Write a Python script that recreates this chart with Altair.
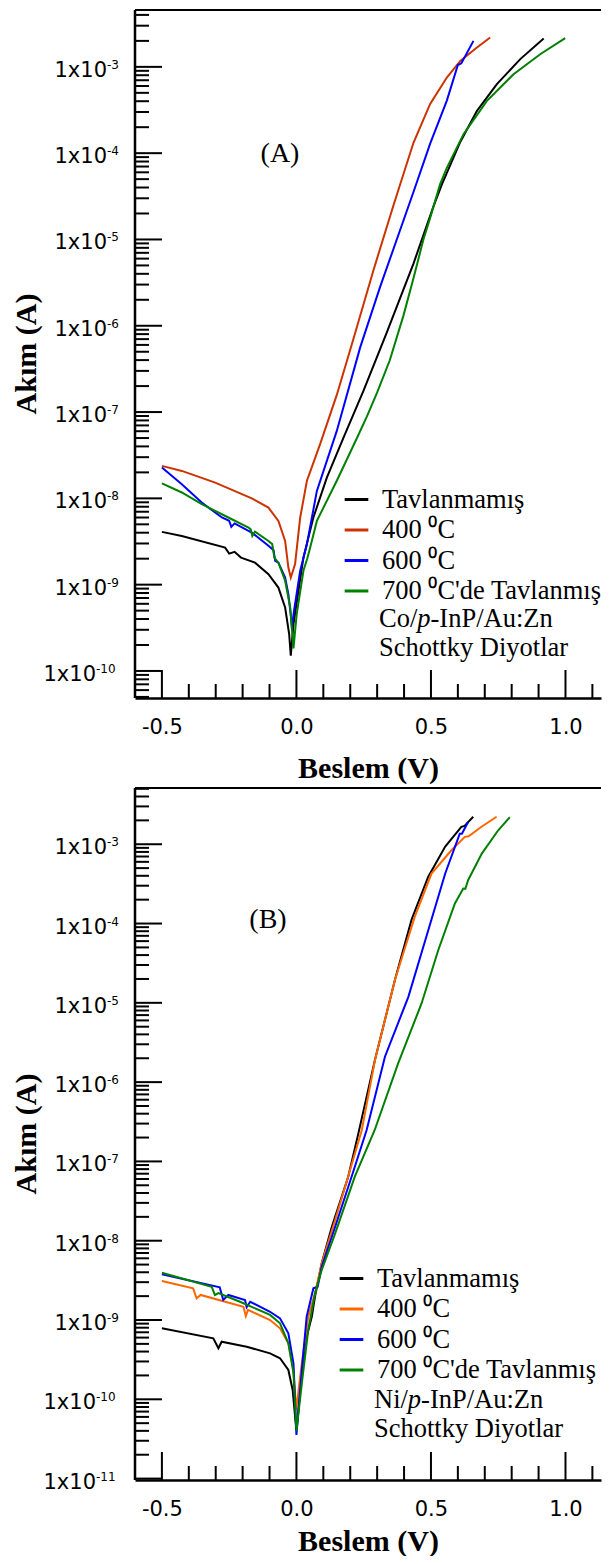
import altair as alt
import pandas as pd

# ---------------- series / colours ----------------
SERIES = ["Tavlanmamış", "400 ⁰C", "600 ⁰C", "700 ⁰C'de Tavlanmış"]
COLORS_A = ["#000000", "#CC3300", "#0000FF", "#008000"]
COLORS_B = ["#000000", "#FF6600", "#0000FF", "#008000"]

# ---------------- panel (A): Co/p-InP/Au:Zn ----------------
A0_V = [-0.5, -0.426, -0.265, -0.25, -0.23, -0.206, -0.154, -0.104, -0.067, -0.042, -0.027, -0.021,
        -0.011, 0.026, 0.063, 0.113, 0.175, 0.249, 0.336, 0.435, 0.509, 0.541, 0.609, 0.671, 0.745, 0.832, 0.919]
A0_I = [4.09e-9, 3.66e-9, 2.69e-9, 2.29e-9, 2.40e-9, 2.06e-9, 1.80e-9, 1.32e-9, 9.25e-10, 5.43e-10, 2.67e-10, 1.50e-10,
        3.48e-10, 2.06e-9, 6.00e-9, 1.74e-8, 5.06e-8, 1.76e-7, 8.36e-7, 5.25e-6, 2.40e-5, 4.37e-5, 1.35e-4, 3.09e-4,
        6.31e-4, 1.23e-3, 2.13e-3]

A4_V = [-0.5, -0.426, -0.302, -0.166, -0.104, -0.067, -0.042, -0.030, -0.021, -0.005, 0.014, 0.039, 0.088,
        0.150, 0.212, 0.286, 0.361, 0.435, 0.497, 0.559, 0.609, 0.665, 0.720]
A4_I = [2.38e-8, 2.08e-8, 1.52e-8, 1.00e-8, 7.82e-9, 5.48e-9, 3.21e-9, 1.58e-9, 1.21e-9, 1.73e-9, 6.00e-9, 1.60e-8,
        4.25e-8, 1.58e-7, 7.08e-7, 4.37e-6, 2.51e-5, 1.32e-4, 3.72e-4, 7.52e-4, 1.17e-3, 1.62e-3, 2.19e-3]

A6_V = [-0.5, -0.426, -0.352, -0.277, -0.250, -0.242, -0.230, -0.166, -0.104, -0.085, -0.079, -0.067, -0.042,
        -0.030, -0.020, -0.017, -0.009, 0.014, 0.039, 0.076, 0.150, 0.237, 0.311, 0.373, 0.435, 0.497, 0.559,
        0.600, 0.613, 0.658]
A6_I = [2.28e-8, 1.46e-8, 8.93e-9, 6.00e-9, 5.50e-9, 4.68e-9, 5.13e-9, 4.02e-9, 2.82e-9, 2.51e-9, 1.89e-9, 1.80e-9,
        1.21e-9, 7.76e-10, 4.16e-10, 3.18e-10, 4.98e-10, 1.45e-9, 2.94e-9, 1.22e-8, 6.05e-8, 5.62e-7, 2.82e-6,
        1.00e-5, 3.55e-5, 1.29e-4, 4.07e-4, 1.05e-3, 1.10e-3, 2.00e-3]

A7_V = [-0.5, -0.426, -0.352, -0.253, -0.178, -0.170, -0.164, -0.154, -0.104, -0.090, -0.082, -0.067, -0.042,
        -0.023, -0.011, 0.001, 0.026, 0.040, 0.048, 0.076, 0.150, 0.225, 0.262, 0.299, 0.347, 0.398, 0.435, 0.472,
        0.497, 0.534, 0.559, 0.621, 0.708, 0.807, 0.906, 0.999]
A7_I = [1.49e-8, 1.17e-8, 8.57e-9, 6.00e-9, 4.59e-9, 4.37e-9, 3.67e-9, 4.12e-9, 3.21e-9, 2.95e-9, 2.06e-9, 1.80e-9,
        1.11e-9, 5.43e-10, 1.82e-10, 4.55e-10, 1.45e-9, 2.00e-9, 2.47e-9, 5.48e-9, 1.60e-8, 5.01e-8, 8.91e-8,
        1.66e-7, 3.98e-7, 1.32e-6, 3.55e-6, 1.00e-5, 1.78e-5, 4.37e-5, 6.76e-5, 1.66e-4, 4.04e-4, 8.22e-4,
        1.40e-3, 2.15e-3]

# ---------------- panel (B): Ni/p-InP/Au:Zn ----------------
B0_V = [-0.5, -0.309, -0.290, -0.278, -0.185, -0.098, -0.061, -0.030, -0.014, -0.005, 0.0, 0.014, 0.032, 0.057,
        0.069, 0.094, 0.131, 0.144, 0.192, 0.230, 0.292, 0.367, 0.428, 0.490, 0.553, 0.613, 0.625, 0.657]
B0_I = [7.85e-10, 5.87e-10, 4.40e-10, 5.32e-10, 4.60e-10, 3.80e-10, 3.29e-10, 2.34e-10, 1.31e-10, 6.03e-11,
        3.98e-11, 1.31e-10, 5.08e-10, 1.10e-9, 1.97e-9, 5.19e-9, 1.48e-8, 2.01e-8, 6.31e-8, 2.24e-7, 1.91e-6,
        2.00e-5, 1.12e-4, 3.89e-4, 9.33e-4, 1.66e-3, 1.70e-3, 2.22e-3]

B4_V = [-0.5, -0.384, -0.371, -0.356, -0.197, -0.188, -0.180, -0.098, -0.061, -0.030, -0.011, -0.001, 0.020,
        0.044, 0.069, 0.094, 0.144, 0.192, 0.243, 0.292, 0.367, 0.440, 0.502, 0.576, 0.626, 0.640, 0.688, 0.744]
B4_I = [3.10e-9, 2.51e-9, 1.88e-9, 2.07e-9, 1.47e-9, 1.12e-9, 1.34e-9, 1.00e-9, 7.85e-10, 5.08e-10, 2.34e-10,
        7.33e-11, 2.84e-10, 1.10e-9, 2.17e-9, 5.19e-9, 1.82e-8, 6.41e-8, 2.49e-7, 1.91e-6, 2.00e-5, 1.22e-4,
        4.27e-4, 8.39e-4, 1.24e-3, 1.26e-3, 1.66e-3, 2.22e-3]

B6_V = [-0.5, -0.285, -0.272, -0.253, -0.191, -0.185, -0.172, -0.098, -0.061, -0.030, -0.011, 0.0, 0.020, 0.038,
        0.063, 0.079, 0.094, 0.144, 0.205, 0.261, 0.329, 0.416, 0.490, 0.553, 0.607, 0.615, 0.638]
B6_I = [3.77e-9, 2.58e-9, 1.79e-9, 2.07e-9, 1.79e-9, 1.45e-9, 1.70e-9, 1.27e-9, 1.05e-9, 6.79e-10, 2.84e-10,
        3.55e-11, 2.34e-10, 1.10e-9, 2.51e-9, 2.63e-9, 4.70e-9, 1.50e-8, 6.41e-8, 2.49e-7, 2.09e-6, 1.19e-5,
        8.24e-5, 4.28e-4, 1.36e-3, 1.36e-3, 1.91e-3]

B7_V = [-0.5, -0.315, -0.303, -0.290, -0.210, -0.098, -0.061, -0.030, -0.011, 0.0, 0.020, 0.044, 0.069, 0.094,
        0.144, 0.217, 0.291, 0.378, 0.465, 0.527, 0.589, 0.620, 0.628, 0.638, 0.689, 0.750, 0.793]
B7_I = [3.95e-9, 2.63e-9, 2.07e-9, 2.19e-9, 1.70e-9, 1.16e-9, 9.08e-10, 5.08e-10, 2.14e-10, 3.98e-11, 1.58e-10,
        7.48e-10, 2.17e-9, 4.27e-9, 1.24e-8, 6.41e-8, 2.49e-7, 1.72e-6, 9.82e-6, 4.61e-5, 1.79e-4, 2.76e-4,
        2.75e-4, 3.52e-4, 7.62e-4, 1.50e-3, 2.19e-3]

# ---------------- axes ----------------
X_RANGE = [-0.6, 1.132]
X_MAJOR = [-0.5, 0.0, 0.5, 1.0]
X_MINOR = [-0.4, -0.3, -0.2, -0.1, 0.1, 0.2, 0.3, 0.4, 0.6, 0.7, 0.8, 0.9, 1.1]
Y_RANGE_A = [4.86e-11, 4.56e-3]
Y_RANGE_B = [9.6e-12, 5.12e-3]
DECADES_A = [-3, -4, -5, -6, -7, -8, -9, -10]
DECADES_B = [-3, -4, -5, -6, -7, -8, -9, -10, -11]

W = 466
H_A = 688
H_B = 692
SERIF = "Liberation Serif"
SANS = "DejaVu Sans"
LEG_FS = 26.5


def series_df(pairs):
    rows = []
    for name, vs, cur in pairs:
        for k, (v, i) in enumerate(zip(vs, cur)):
            rows.append({"series": name, "V": v, "I": i, "idx": k})
    return pd.DataFrame(rows)


def minor_ticks(dom):
    out = []
    for k in range(-13, 0):
        for m in range(2, 10):
            val = m * 10.0 ** k
            if dom[0] <= val <= dom[1]:
                out.append(val)
    return out


def one(**kw):
    return pd.DataFrame([kw]) if kw else pd.DataFrame([{"k": 0}])


def panel(df, colors, y_dom, decades, H, letter, letter_xy, legend_xy, mat, mat_xy,
          label_pad, title_pad):
    xs = alt.Scale(domain=X_RANGE, nice=False, zero=False)
    ys = alt.Scale(type="log", domain=y_dom, nice=False)
    x_axis = alt.Axis(
        values=X_MAJOR, labelExpr="replace(format(datum.value, '.1f'), '\u2212', '-')",
        ticks=False, tickSize=0, grid=False, domain=True, domainWidth=2.5, domainColor="black",
        labelFont=SANS, labelFontSize=21, labelColor="black", labelPadding=label_pad,
        labelFlush=False, labelOverlap=False,
        title="Beslem (V)", titleFont=SERIF, titleFontSize=30, titleFontWeight="bold",
        titleColor="black", titlePadding=title_pad)

    lines = alt.Chart(df).mark_line(strokeWidth=2, clip=True).encode(
        x=alt.X("V:Q", scale=xs, axis=x_axis),
        y=alt.Y("I:Q", scale=ys, axis=None),
        color=alt.Color("series:N", sort=SERIES,
                        scale=alt.Scale(domain=SERIES, range=colors),
                        legend=alt.Legend(orient="none", legendX=legend_xy[0], legendY=legend_xy[1],
                                          title=None, symbolType="stroke", symbolStrokeWidth=3,
                                          symbolSize=560, labelFont=SERIF, labelFontSize=LEG_FS,
                                          labelColor="black", labelOffset=12, rowPadding=3.5,
                                          padding=0, labelLimit=400)),
        order=alt.Order("idx:Q"),
    )

    xt_major = alt.Chart(pd.DataFrame({"V": X_MAJOR})).mark_rule(color="black", strokeWidth=2).encode(
        x=alt.X("V:Q", scale=xs, axis=x_axis), y=alt.value(H), y2=alt.value(H - 28))
    xt_minor = alt.Chart(pd.DataFrame({"V": X_MINOR})).mark_rule(color="black", strokeWidth=2).encode(
        x=alt.X("V:Q", scale=xs, axis=x_axis), y=alt.value(H), y2=alt.value(H - 14))

    dec = pd.DataFrame({"e": decades})
    dec["v"] = [10.0 ** e for e in decades]
    dec["lbl"] = [str(e) for e in decades]

    yt_major = alt.Chart(dec).mark_rule(color="black", strokeWidth=2).encode(
        y=alt.Y("v:Q", scale=ys, axis=None), x=alt.value(0), x2=alt.value(27))
    yt_minor = alt.Chart(pd.DataFrame({"t": minor_ticks(y_dom)})).mark_rule(
        color="black", strokeWidth=2).encode(
        y=alt.Y("t:Q", scale=ys, axis=None), x=alt.value(0), x2=alt.value(14))

    layers = [lines, xt_major, xt_minor, yt_major, yt_minor]
    for cond, xpos in (("datum.e > -10", -28), ("datum.e <= -10", -39)):
        base = alt.Chart(dec).transform_filter(cond).mark_text(
            text="1x10", align="right", baseline="middle", font=SANS, fontSize=21, dy=4,
            color="black").encode(y=alt.Y("v:Q", scale=ys, axis=None), x=alt.value(xpos))
        expo = alt.Chart(dec).transform_filter(cond).mark_text(
            align="left", baseline="middle", font=SANS, fontSize=12, dy=-2,
            color="black").encode(y=alt.Y("v:Q", scale=ys, axis=None), x=alt.value(xpos),
                                  text="lbl:N")
        layers += [base, expo]

    top_border = alt.Chart(one()).mark_rule(color="black", strokeWidth=2).encode(
        x=alt.value(0), x2=alt.value(W), y=alt.value(0))
    y_line = alt.Chart(one()).mark_rule(color="black", strokeWidth=2.5).encode(
        x=alt.value(0), y=alt.value(0), y2=alt.value(H))
    anchor = alt.Chart(one()).mark_rule(color="white", strokeWidth=1, opacity=0).encode(
        x=alt.value(-127), y=alt.value(H / 2), y2=alt.value(H / 2 + 1))
    y_title = alt.Chart(one(t="Akım (A)")).mark_text(
        angle=270, align="center", baseline="middle", font=SERIF, fontSize=30,
        fontWeight="bold", color="black").encode(
        x=alt.value(-108), y=alt.value(H / 2), text="t:N")
    letter_txt = alt.Chart(one(t=letter)).mark_text(
        align="center", baseline="middle", font=SERIF, fontSize=28, color="black").encode(
        x=alt.value(letter_xy[0]), y=alt.value(letter_xy[1]), text="t:N")

    # material line: "<mat>/" + italic "p" + "-InP/Au:Zn", then "Schottky Diyotlar"
    fs = LEG_FS
    w_mat = {"Co/": 1.445 * fs, "Ni/": 1.278 * fs}[mat]
    mx, my = mat_xy
    mat_parts = [
        (mat, mx, "normal"),
        ("p", mx + w_mat, "italic"),
        ("-InP/Au:Zn", mx + w_mat + 0.5 * fs, "normal"),
    ]
    for txt, px, style in mat_parts:
        layers.append(alt.Chart(one(t=txt)).mark_text(
            align="left", baseline="middle", font=SERIF, fontSize=fs, fontStyle=style,
            color="black").encode(x=alt.value(px), y=alt.value(my), text="t:N"))
    layers.append(alt.Chart(one(t="Schottky Diyotlar")).mark_text(
        align="left", baseline="middle", font=SERIF, fontSize=fs, color="black").encode(
        x=alt.value(mx), y=alt.value(my + 29), text="t:N"))

    layers += [top_border, y_line, anchor, y_title, letter_txt]
    return alt.layer(*layers).properties(width=W, height=H)


df_A = series_df([(SERIES[0], A0_V, A0_I), (SERIES[1], A4_V, A4_I),
                  (SERIES[2], A6_V, A6_I), (SERIES[3], A7_V, A7_I)])
df_B = series_df([(SERIES[0], B0_V, B0_I), (SERIES[1], B4_V, B4_I),
                  (SERIES[2], B6_V, B6_I), (SERIES[3], B7_V, B7_I)])

panel_A = panel(df_A, COLORS_A, Y_RANGE_A, DECADES_A, H_A, "(A)", (145, 144), (208, 476),
                "Co/", (244, 609), label_pad=18, title_pad=16)
panel_B = panel(df_B, COLORS_B, Y_RANGE_B, DECADES_B, H_B, "(B)", (133, 132), (203, 477),
                "Ni/", (239, 612), label_pad=18, title_pad=7)

chart = alt.vconcat(panel_A, panel_B, spacing=3).resolve_scale(
    color="independent").resolve_legend(color="independent").properties(
    padding={"left": 0, "right": 0, "top": 0, "bottom": 0}).configure_view(stroke=None)

chart.save("out.html", embed_options={"renderer": "svg", "actions": False})
